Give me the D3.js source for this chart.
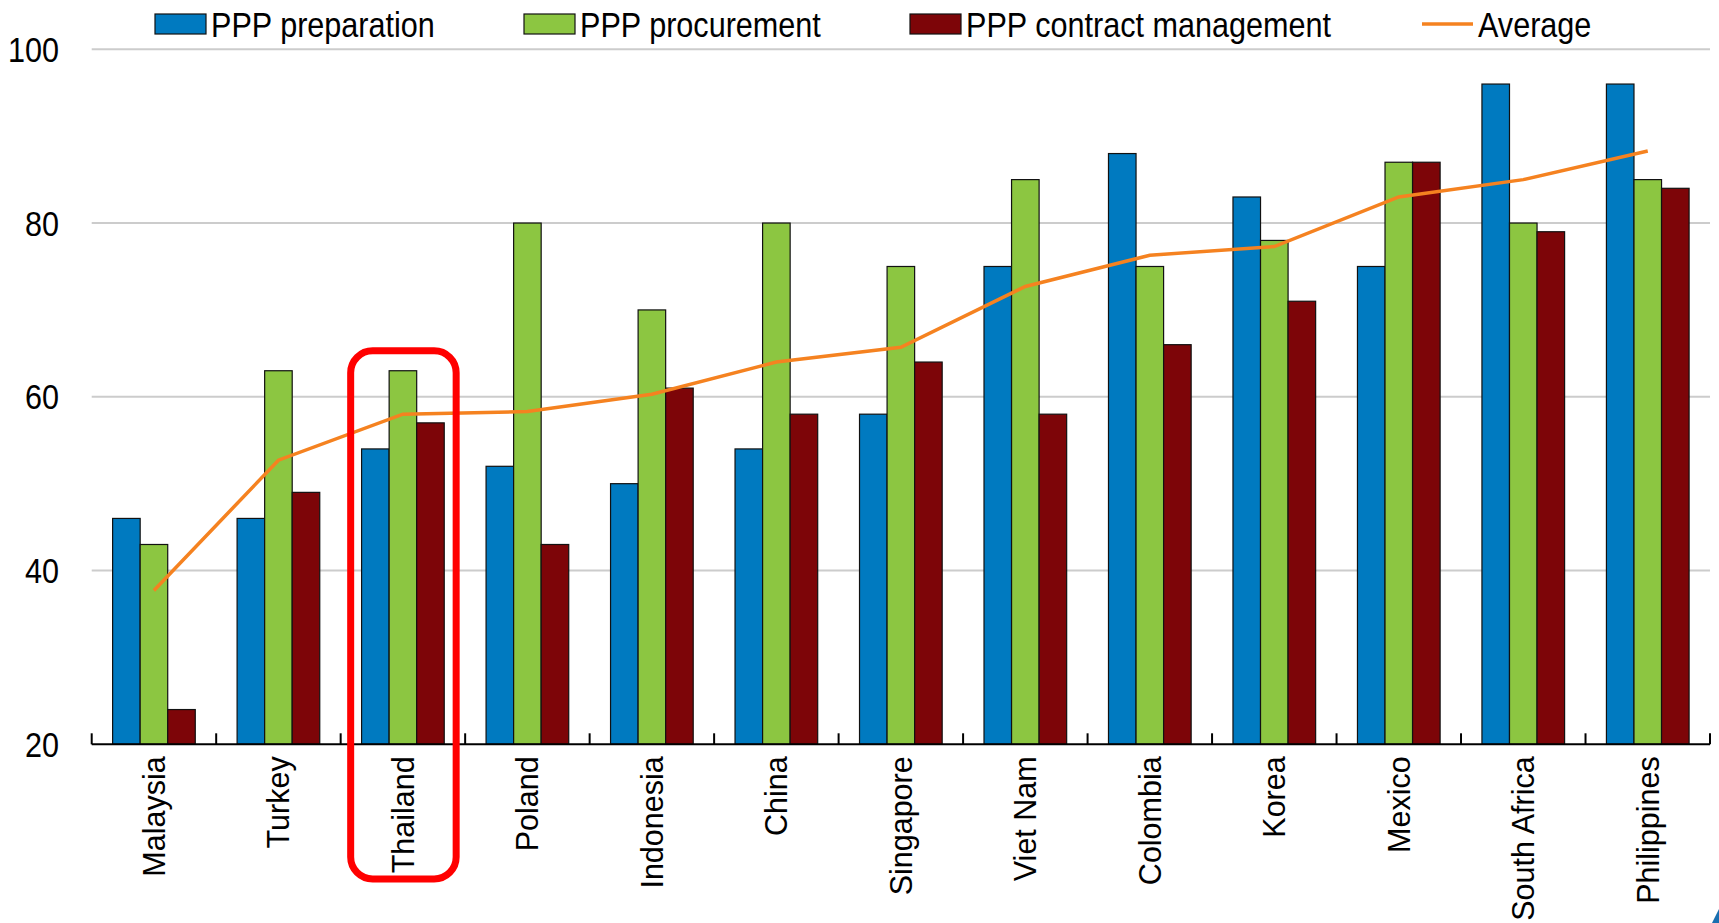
<!DOCTYPE html>
<html>
<head>
<meta charset="utf-8">
<script src="https://cdn.jsdelivr.net/npm/d3@7"></script>
<style>
  html, body { margin: 0; padding: 0; background: #fff; overflow: hidden; }
  svg { display: block; }
  .narrow { font-family: "Liberation Sans Narrow", "Arial Narrow", "Liberation Sans", Arial, sans-serif; }
</style>
</head>
<body>
<div id="chart"></div>
<script>
// chart values
const countries = ['Malaysia', 'Turkey', 'Thailand', 'Poland', 'Indonesia', 'China', 'Singapore',
  'Viet Nam', 'Colombia', 'Korea', 'Mexico', 'South Africa', 'Philippines'];
const preparation = [46, 46, 54, 52, 50, 54, 58, 75, 88, 83, 75, 96, 96];
const procurement = [43, 63, 63, 80, 70, 80, 75, 85, 75, 78, 87, 80, 85];
const contractMgmt = [24, 49, 57, 43, 61, 58, 64, 58, 66, 71, 87, 79, 84];
const average = [37.7, 52.7, 58.0, 58.3, 60.3, 64.0, 65.7, 72.7, 76.3, 77.3, 83.0, 85.0, 88.3];
const yTicks = [20, 40, 60, 80, 100];
const seriesNames = ['PPP preparation', 'PPP procurement', 'PPP contract management'];
const seriesColors = ['#007ac0', '#8cc641', '#7d0508'];
const avgColor = '#f58220';
const highlight = 'Thailand';

const width = 1719, height = 923;
const margin = { top: 49.3, right: 9, bottom: 178.7, left: 91.7 };

// no narrow font on the box, so squeeze the regular one
const squeeze = 0.85;

const svg = d3.select('#chart')
  .append('svg')
  .attr('width', width)
  .attr('height', height);

const x = d3.scaleBand()
  .domain(countries)
  .range([margin.left, width - margin.right])
  .padding(0);

// bars sit in the middle of each band
const x1 = d3.scaleBand()
  .domain([0, 1, 2])
  .range([x.bandwidth() * 0.168, x.bandwidth() * 0.832])
  .padding(0);

const y = d3.scaleLinear()
  .domain([20, 100])
  .range([height - margin.bottom, margin.top]);

// gridlines
svg.append('g')
  .selectAll('line')
  .data(yTicks.filter(d => d > 20))
  .join('line')
  .attr('x1', margin.left)
  .attr('x2', width - margin.right)
  .attr('y1', d => y(d))
  .attr('y2', d => y(d))
  .attr('stroke', '#cccccc')
  .attr('stroke-width', 2);

// y labels
svg.append('g')
  .selectAll('text')
  .data(yTicks)
  .join('text')
  .attr('class', 'narrow')
  .attr('transform', d => `translate(59,${y(d)}) scale(${squeeze},1)`)
  .attr('dy', '0.35em')
  .attr('text-anchor', 'end')
  .attr('font-size', 36)
  .attr('fill', '#000')
  .text(d => d);

// bars
const series = [preparation, procurement, contractMgmt];
const groups = svg.append('g')
  .selectAll('g')
  .data(countries)
  .join('g')
  .attr('transform', d => `translate(${x(d)},0)`);

groups.selectAll('rect')
  .data((c, i) => series.map((s, k) => ({ k, v: s[i] })))
  .join('rect')
  .attr('x', d => x1(d.k))
  .attr('width', x1.bandwidth())
  .attr('y', d => y(d.v))
  .attr('height', d => y(20) - y(d.v))
  .attr('fill', d => seriesColors[d.k])
  .attr('stroke', '#111')
  .attr('stroke-width', 1.2);

// x axis
const xAxis = svg.append('g')
  .attr('transform', `translate(0,${y(20)})`);
xAxis.append('line')
  .attr('x1', margin.left)
  .attr('x2', width - margin.right)
  .attr('stroke', '#000')
  .attr('stroke-width', 2);
xAxis.selectAll('.tick')
  .data(countries.concat(['end']))
  .join('line')
  .attr('class', 'tick')
  .attr('x1', (d, i) => margin.left + i * x.bandwidth())
  .attr('x2', (d, i) => margin.left + i * x.bandwidth())
  .attr('y1', 0)
  .attr('y2', -11)
  .attr('stroke', '#000')
  .attr('stroke-width', 2);

xAxis.selectAll('text')
  .data(countries)
  .join('text')
  .attr('transform', d => `translate(${x(d) + x.bandwidth() / 2},12) rotate(-90)`)
  .attr('dy', '0.36em')
  .attr('text-anchor', 'end')
  .attr('font-family', '"Liberation Sans", Arial, sans-serif')
  .attr('font-size', 30.5)
  .attr('fill', '#000')
  .text(d => d);

// average line
const line = d3.line()
  .x((d, i) => x(countries[i]) + x.bandwidth() / 2)
  .y(d => y(d));

svg.append('path')
  .datum(average)
  .attr('d', line)
  .attr('fill', 'none')
  .attr('stroke', avgColor)
  .attr('stroke-width', 3.5);

// red box round the highlighted country
const hi = countries.indexOf(highlight);
const boxTop = y(procurement[hi]) - 20;
svg.append('rect')
  .attr('x', x(highlight) + 10)
  .attr('y', boxTop)
  .attr('width', x.bandwidth() - 19)
  .attr('height', 879 - boxTop)
  .attr('rx', 22)
  .attr('fill', 'none')
  .attr('stroke', '#ff0000')
  .attr('stroke-width', 7);

// legend
const legendItems = [
  { name: seriesNames[0], color: seriesColors[0], x: 155, type: 'rect' },
  { name: seriesNames[1], color: seriesColors[1], x: 524, type: 'rect' },
  { name: seriesNames[2], color: seriesColors[2], x: 910, type: 'rect' },
  { name: 'Average', color: avgColor, x: 1422, type: 'line' }
];
const legend = svg.append('g');
legendItems.forEach(item => {
  const g = legend.append('g').attr('transform', `translate(${item.x},24)`);
  if (item.type === 'rect') {
    g.append('rect')
      .attr('x', 0).attr('y', -10)
      .attr('width', 51).attr('height', 20)
      .attr('fill', item.color)
      .attr('stroke', '#111')
      .attr('stroke-width', 1.2);
  } else {
    g.append('line')
      .attr('x1', 0).attr('x2', 51)
      .attr('stroke', item.color)
      .attr('stroke-width', 3.5);
  }
  g.append('text')
    .attr('class', 'narrow')
    .attr('transform', `translate(56,0) scale(${squeeze},1)`)
    .attr('dy', '0.35em')
    .attr('font-size', 36)
    .attr('fill', '#000')
    .text(item.name);
});

// clipped corner of a logo in the bottom right
svg.append('path')
  .attr('d', `M${width - 7},${height} L${width},${height - 14} L${width},${height} Z`)
  .attr('fill', '#1a6fb0');
</script>
</body>
</html>
